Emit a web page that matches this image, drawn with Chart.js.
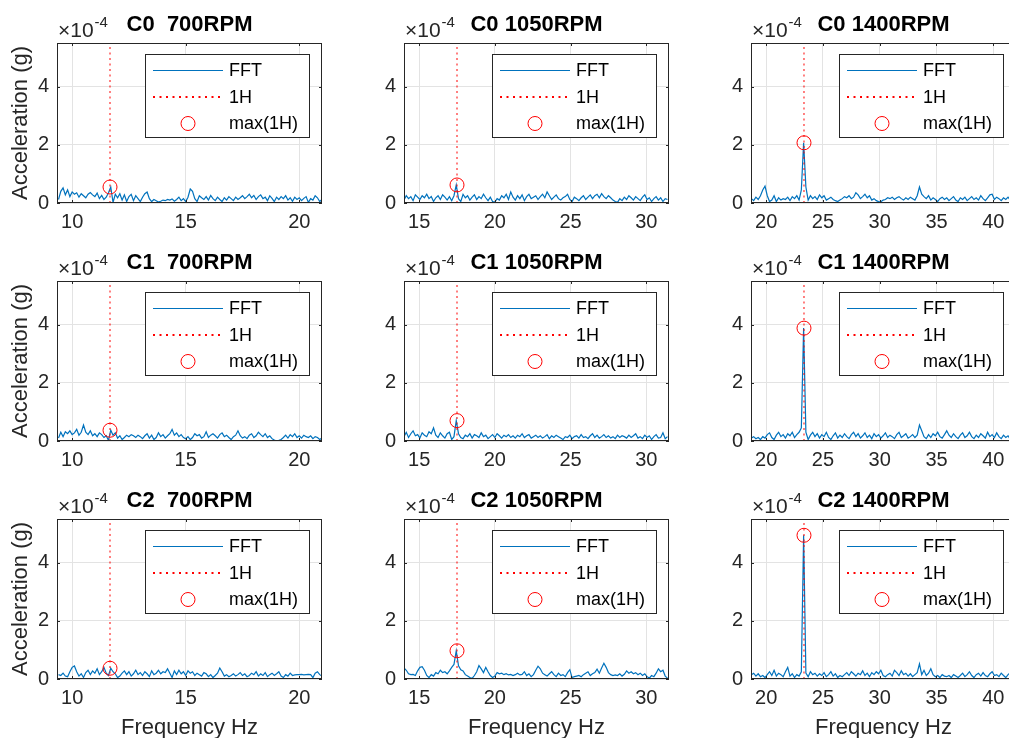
<!DOCTYPE html>
<html>
<head>
<meta charset="utf-8">
<title>FFT 1H</title>
<script src="https://cdn.jsdelivr.net/npm/chart.js@4.4.1/dist/chart.umd.min.js"></script>
<style>
  html, body { margin: 0; padding: 0; background: #fff; }
  #fig { position: relative; width: 1009px; height: 738px; overflow: hidden; background: #fff; }
  #fig canvas { position: absolute; }
</style>
</head>
<body>
<div id="fig"></div>
<script>
// === 1. Data ===
const CONFIGS = ["C0", "C1", "C2"];
const RPMS = [700, 1050, 1400];
const H1_FREQ = [11.667, 17.5, 23.333];
const X_MIN = [9.333, 14, 18.667];
const X_MAX = [21, 31.5, 42];
const X_TICKS = [[10, 15, 20], [15, 20, 25, 30], [20, 25, 30, 35, 40]];
const Y_TICKS = [0, 2, 4];
const Y_MAX = 5.5;

// FFT bins (Hz): first bin and spacing per rpm column
const BIN_START = [9.4, 14.0, 18.7];
const BIN_STEP = [0.1, 0.15, 0.2];

// max(1H), units of 1e-4 g: rows C0..C2, columns 700/1050/1400
const MAX_1H = [
  [0.55, 0.62, 2.07],
  [0.37, 0.70, 3.88],
  [0.37, 0.97, 4.94],
];

// FFT amplitude, units of 1e-4 g
const FFT_C0_700 = [
  0.12,0.40,0.52,0.28,0.45,0.22,0.38,0.30,0.35,0.20,
  0.32,0.25,0.18,0.30,0.36,0.28,0.22,0.34,0.15,0.26,
  0.12,0.20,0.35,0.55,0.02,0.30,0.18,0.32,0.10,0.28,
  0.05,0.22,0.30,0.08,0.25,0.15,0.05,0.20,0.32,0.38,
  0.15,0.05,0.12,0.08,0.03,0.06,0.10,0.08,0.12,0.10,
  0.14,0.06,0.12,0.20,0.08,0.15,0.05,0.20,0.48,0.40,
  0.15,0.05,0.25,0.18,0.12,0.22,0.10,0.26,0.15,0.08,
  0.20,0.12,0.05,0.18,0.10,0.22,0.15,0.08,0.20,0.12,
  0.18,0.25,0.15,0.22,0.30,0.18,0.26,0.12,0.22,0.28,
  0.15,0.20,0.08,0.25,0.16,0.05,0.20,0.12,0.22,0.15,
  0.25,0.10,0.18,0.06,0.20,0.12,0.18,0.08,0.16,0.22,
  0.02,0.15,0.10,0.25,0.18,0.05,0.12
];
const FFT_C1_700 = [
  0.10,0.30,0.15,0.32,0.25,0.35,0.22,0.28,0.40,0.20,
  0.30,0.55,0.30,0.22,0.35,0.18,0.25,0.15,0.28,0.22,
  0.12,0.18,0.02,0.37,0.20,0.28,0.10,0.18,0.05,0.12,
  0.20,0.15,0.22,0.18,0.12,0.20,0.15,0.08,0.18,0.25,
  0.10,0.20,0.05,0.12,0.28,0.15,0.22,0.10,0.18,0.25,
  0.40,0.20,0.28,0.15,0.22,0.12,0.08,0.15,0.05,0.12,
  0.25,0.18,0.22,0.10,0.15,0.32,0.12,0.20,0.25,0.18,
  0.10,0.22,0.28,0.15,0.20,0.12,0.05,0.15,0.20,0.35,
  0.18,0.10,0.15,0.08,0.20,0.25,0.12,0.18,0.30,0.22,
  0.15,0.25,0.12,0.18,0.08,0.03,0.00,0.02,0.05,0.12,
  0.20,0.10,0.22,0.15,0.25,0.12,0.18,0.10,0.20,0.15,
  0.12,0.18,0.08,0.15,0.12,0.05,0.10
];
const FFT_C2_700 = [
  0.15,0.12,0.20,0.10,0.08,0.25,0.40,0.45,0.25,0.10,
  0.18,0.05,0.22,0.30,0.15,0.28,0.20,0.35,0.15,0.25,
  0.40,0.20,0.12,0.37,0.25,0.18,0.05,0.10,0.20,0.28,
  0.15,0.25,0.10,0.18,0.30,0.15,0.22,0.12,0.25,0.18,
  0.08,0.28,0.15,0.20,0.30,0.18,0.25,0.22,0.35,0.20,
  0.05,0.28,0.15,0.30,0.18,0.25,0.12,0.28,0.20,0.25,
  0.12,0.20,0.15,0.10,0.22,0.18,0.08,0.15,0.05,0.12,
  0.20,0.38,0.25,0.10,0.15,0.08,0.12,0.18,0.10,0.15,
  0.22,0.12,0.18,0.08,0.12,0.20,0.15,0.25,0.10,0.18,
  0.12,0.22,0.08,0.15,0.20,0.12,0.18,0.25,0.10,0.05,
  0.15,0.10,0.20,0.12,0.14,0.15,0.15,0.16,0.14,0.15,
  0.16,0.15,0.05,0.20,0.25,0.15,0.10
];
const FFT_C0_1050 = [
  0.10,0.25,0.15,0.22,0.08,0.28,0.20,0.12,0.25,0.18,
  0.30,0.15,0.22,0.05,0.18,0.25,0.12,0.28,0.20,0.10,
  0.22,0.08,0.25,0.62,0.15,0.05,0.30,0.18,0.25,0.10,
  0.20,0.28,0.12,0.22,0.15,0.30,0.18,0.08,0.20,0.05,
  0.03,0.15,0.10,0.25,0.18,0.30,0.12,0.38,0.20,0.10,
  0.25,0.15,0.28,0.08,0.22,0.30,0.15,0.20,0.25,0.12,
  0.22,0.30,0.18,0.38,0.25,0.12,0.20,0.28,0.15,0.10,
  0.18,0.22,0.30,0.12,0.05,0.20,0.15,0.08,0.18,0.25,
  0.12,0.20,0.28,0.15,0.25,0.30,0.18,0.32,0.22,0.15,
  0.25,0.18,0.10,0.05,0.02,0.15,0.08,0.20,0.12,0.25,
  0.18,0.10,0.22,0.15,0.08,0.20,0.28,0.12,0.18,0.05,
  0.15,0.22,0.10,0.18,0.05,0.15,0.12
];
const FFT_C1_1050 = [
  0.15,0.30,0.12,0.25,0.35,0.18,0.22,0.10,0.28,0.20,
  0.15,0.32,0.25,0.45,0.20,0.12,0.28,0.18,0.10,0.25,
  0.30,0.05,0.15,0.70,0.25,0.12,0.08,0.20,0.15,0.25,
  0.10,0.22,0.18,0.12,0.28,0.15,0.20,0.08,0.15,0.22,
  0.12,0.25,0.18,0.10,0.20,0.15,0.22,0.12,0.18,0.10,
  0.20,0.15,0.25,0.12,0.18,0.22,0.10,0.15,0.20,0.12,
  0.18,0.10,0.15,0.22,0.08,0.18,0.12,0.20,0.15,0.10,
  0.05,0.15,0.12,0.20,0.08,0.15,0.18,0.10,0.22,0.12,
  0.15,0.08,0.18,0.25,0.12,0.20,0.10,0.15,0.22,0.12,
  0.18,0.10,0.15,0.08,0.20,0.12,0.18,0.15,0.10,0.20,
  0.12,0.18,0.25,0.10,0.15,0.08,0.20,0.12,0.18,0.05,
  0.15,0.22,0.10,0.12,0.28,0.08,0.15
];
const FFT_C2_1050 = [
  0.38,0.30,0.18,0.15,0.16,0.12,0.28,0.40,0.42,0.30,
  0.12,0.05,0.15,0.10,0.22,0.18,0.30,0.22,0.25,0.18,
  0.28,0.40,0.50,0.97,0.45,0.32,0.28,0.15,0.10,0.05,
  0.02,0.12,0.25,0.46,0.35,0.22,0.40,0.25,0.12,0.05,
  0.10,0.22,0.18,0.20,0.15,0.18,0.14,0.16,0.12,0.15,
  0.20,0.14,0.16,0.25,0.12,0.18,0.08,0.15,0.30,0.44,
  0.35,0.20,0.15,0.10,0.18,0.25,0.15,0.08,0.20,0.12,
  0.15,0.08,0.22,0.32,0.05,0.08,0.10,0.12,0.08,0.15,
  0.20,0.25,0.12,0.18,0.22,0.34,0.20,0.38,0.54,0.40,
  0.22,0.15,0.12,0.14,0.12,0.18,0.10,0.16,0.28,0.20,
  0.25,0.18,0.22,0.15,0.20,0.12,0.18,0.08,0.03,0.12,
  0.08,0.20,0.35,0.25,0.30,0.10,0.03
];
const FFT_C0_1400 = [
  0.15,0.08,0.20,0.12,0.25,0.45,0.58,0.25,0.05,0.10,
  0.25,0.05,0.18,0.10,0.15,0.12,0.20,0.08,0.22,0.15,
  0.25,0.10,0.45,2.07,0.55,0.10,0.25,0.15,0.22,0.12,
  0.28,0.18,0.25,0.10,0.15,0.20,0.12,0.08,0.05,0.10,
  0.15,0.22,0.18,0.25,0.15,0.20,0.35,0.28,0.15,0.22,
  0.30,0.18,0.25,0.10,0.15,0.08,0.05,0.04,0.10,0.12,
  0.18,0.15,0.20,0.12,0.18,0.22,0.15,0.10,0.18,0.12,
  0.20,0.15,0.10,0.25,0.55,0.30,0.22,0.15,0.25,0.10,
  0.18,0.12,0.05,0.15,0.20,0.12,0.18,0.08,0.15,0.22,
  0.10,0.05,0.18,0.12,0.20,0.08,0.15,0.22,0.12,0.18,
  0.10,0.25,0.15,0.08,0.18,0.28,0.30,0.12,0.20,0.15,
  0.08,0.18,0.12,0.20,0.10,0.15,0.12
];
const FFT_C1_1400 = [
  0.10,0.15,0.08,0.12,0.05,0.15,0.10,0.22,0.28,0.12,
  0.05,0.20,0.30,0.15,0.22,0.10,0.25,0.18,0.30,0.12,
  0.22,0.30,0.45,3.88,0.30,0.05,0.20,0.30,0.15,0.25,
  0.10,0.22,0.15,0.30,0.12,0.05,0.18,0.28,0.10,0.20,
  0.12,0.25,0.15,0.08,0.22,0.30,0.15,0.25,0.10,0.18,
  0.28,0.12,0.20,0.08,0.25,0.15,0.22,0.10,0.18,0.28,
  0.12,0.20,0.15,0.08,0.22,0.30,0.12,0.18,0.25,0.10,
  0.15,0.22,0.12,0.20,0.55,0.35,0.15,0.08,0.22,0.12,
  0.25,0.18,0.30,0.15,0.10,0.22,0.35,0.20,0.12,0.25,
  0.15,0.08,0.20,0.28,0.12,0.18,0.30,0.15,0.08,0.20,
  0.12,0.25,0.18,0.10,0.30,0.15,0.22,0.12,0.28,0.15,
  0.08,0.20,0.12,0.18,0.05,0.15,0.10
];
const FFT_C2_1400 = [
  0.15,0.20,0.10,0.18,0.08,0.12,0.05,0.15,0.25,0.12,
  0.30,0.10,0.20,0.15,0.08,0.25,0.40,0.10,0.18,0.05,
  0.15,0.10,0.25,4.94,0.20,0.08,0.25,0.15,0.20,0.10,
  0.18,0.12,0.22,0.08,0.15,0.25,0.10,0.18,0.05,0.12,
  0.08,0.15,0.22,0.12,0.25,0.18,0.10,0.20,0.15,0.28,
  0.12,0.20,0.08,0.22,0.15,0.25,0.18,0.30,0.12,0.08,
  0.15,0.20,0.10,0.30,0.22,0.12,0.28,0.15,0.20,0.10,
  0.18,0.08,0.15,0.22,0.52,0.15,0.30,0.12,0.20,0.35,
  0.15,0.08,0.12,0.05,0.15,0.10,0.08,0.12,0.05,0.15,
  0.10,0.05,0.12,0.20,0.08,0.15,0.25,0.12,0.05,0.15,
  0.20,0.10,0.22,0.12,0.08,0.18,0.25,0.12,0.15,0.08,
  0.20,0.12,0.05,0.15,0.22,0.10,0.15
];

const FFT = [
  [FFT_C0_700, FFT_C0_1050, FFT_C0_1400],
  [FFT_C1_700, FFT_C1_1050, FFT_C1_1400],
  [FFT_C2_700, FFT_C2_1050, FFT_C2_1400],
];

// === 2. Layout (pixels) ===
const COL_X = [57, 404, 751];   // left edge of each axes
const ROW_Y = [43, 281, 519];   // top edge of each axes
const AX_W = 265;
const AX_H = 160;
const PAD_L = 57;
const PAD_T = 43;
const PAD_R = 25;
const FONT = "'Liberation Sans', Arial, Helvetica, sans-serif";
const AXIS_COLOR = "#262626";

// === 3. MATLAB-style box, inward ticks, legend, title, exponent ===
const matlabAxes = {
  id: "matlabAxes",
  afterDraw(chart, args, opts) {
    const { ctx, chartArea: a } = chart;
    const xs = chart.scales.x;
    const ys = chart.scales.y;
    ctx.save();

    // inward tick marks + box
    ctx.strokeStyle = AXIS_COLOR;
    ctx.lineWidth = 1;
    ctx.setLineDash([]);
    ctx.beginPath();
    xs.ticks.forEach((t) => {
      const px = Math.round(xs.getPixelForValue(t.value)) + 0.5;
      ctx.moveTo(px, a.bottom);
      ctx.lineTo(px, a.bottom - 3);
      ctx.moveTo(px, a.top);
      ctx.lineTo(px, a.top + 3);
    });
    ys.ticks.forEach((t) => {
      const py = Math.round(ys.getPixelForValue(t.value)) + 0.5;
      ctx.moveTo(a.left, py);
      ctx.lineTo(a.left + 3, py);
      ctx.moveTo(a.right, py);
      ctx.lineTo(a.right - 3, py);
    });
    ctx.stroke();
    ctx.strokeRect(a.left + 0.5, a.top + 0.5, a.right - a.left - 1, a.bottom - a.top - 1);

    // legend
    const lw = 165, lh = 84;
    const lx = a.right - 12 - lw;
    const ly = a.top + 11;
    ctx.fillStyle = "#fff";
    ctx.fillRect(lx, ly, lw, lh);
    ctx.strokeStyle = AXIS_COLOR;
    ctx.strokeRect(lx + 0.5, ly + 0.5, lw - 1, lh - 1);
    ctx.font = `18px ${FONT}`;
    ctx.textAlign = "left";
    ctx.textBaseline = "middle";
    chart.data.datasets.forEach((ds, i) => {
      const cy = Math.round(ly + 16 + i * 26.5);
      ctx.strokeStyle = ds.borderColor;
      if (ds.showLine === false) {
        ctx.lineWidth = 1;
        ctx.setLineDash([]);
        ctx.beginPath();
        ctx.arc(lx + 43, cy + 0.5, ds.pointRadius, 0, Math.PI * 2);
        ctx.stroke();
      } else if (ds.borderDash) {
        ctx.lineWidth = 2;
        ctx.setLineDash([2, 4.5]);
        ctx.beginPath();
        ctx.moveTo(lx + 8, cy);
        ctx.lineTo(lx + 78, cy);
        ctx.stroke();
      } else {
        ctx.lineWidth = 1.2;
        ctx.setLineDash([]);
        ctx.beginPath();
        ctx.moveTo(lx + 8, cy + 0.5);
        ctx.lineTo(lx + 78, cy + 0.5);
        ctx.stroke();
      }
      ctx.fillStyle = "#000";
      ctx.fillText(ds.label, lx + 84, cy + 1);
    });
    ctx.setLineDash([]);

    // title
    ctx.fillStyle = "#000";
    ctx.font = `bold 22px ${FONT}`;
    ctx.textAlign = "center";
    ctx.textBaseline = "alphabetic";
    ctx.fillText(opts.title, (a.left + a.right) / 2, a.top - 12);

    // exponent label x10^-4
    ctx.fillStyle = AXIS_COLOR;
    ctx.textAlign = "left";
    ctx.font = `21px ${FONT}`;
    const base = "\u00d710";
    ctx.fillText(base, a.left + 1, a.top - 6);
    const bw = ctx.measureText(base).width;
    ctx.font = `15px ${FONT}`;
    ctx.fillText("-4", a.left + 2 + bw, a.top - 16);

    ctx.restore();
  },
};

// === 4. Build the nine panels ===
const fig = document.getElementById("fig");

function makePanel(r, c) {
  const values = FFT[r][c];
  const f1 = H1_FREQ[c];
  const fftPts = values.map((v, i) => ({
    x: +(BIN_START[c] + i * BIN_STEP[c]).toFixed(3),
    y: v,
  }));
  const canvasH = r === 2 ? 280 : 238;
  const canvasW = PAD_L + AX_W + PAD_R;

  const cv = document.createElement("canvas");
  cv.width = canvasW;
  cv.height = canvasH;
  cv.style.left = COL_X[c] - PAD_L + "px";
  cv.style.top = ROW_Y[r] - PAD_T + "px";
  fig.appendChild(cv);

  const rpm = String(RPMS[c]).padStart(4, " ");
  const title = `${CONFIGS[r]} ${rpm}RPM`;

  return new Chart(cv, {
    type: "line",
    data: {
      datasets: [
        {
          label: "FFT",
          data: fftPts,
          borderColor: "#0072BD",
          borderWidth: 1.2,
          pointRadius: 0,
          tension: 0,
          fill: false,
          order: 2,
        },
        {
          label: "1H",
          data: [{ x: f1, y: 0 }, { x: f1, y: Y_MAX }],
          borderColor: "#FF0000",
          borderWidth: 1,
          borderDash: [2, 3.5],
          pointRadius: 0,
          fill: false,
          order: 1,
        },
        {
          label: "max(1H)",
          data: [{ x: f1, y: MAX_1H[r][c] }],
          showLine: false,
          borderColor: "#FF0000",
          backgroundColor: "rgba(0,0,0,0)",
          pointStyle: "circle",
          pointRadius: 7,
          pointBorderWidth: 1,
          pointBorderColor: "#FF0000",
          pointBackgroundColor: "rgba(0,0,0,0)",
          order: 0,
        },
      ],
    },
    options: {
      responsive: false,
      animation: false,
      devicePixelRatio: 1,
      events: [],
      layout: { padding: { left: 0, top: PAD_T, right: PAD_R, bottom: 0 } },
      plugins: {
        legend: { display: false },
        title: { display: false },
        tooltip: { enabled: false },
        matlabAxes: { title },
      },
      scales: {
        x: {
          type: "linear",
          min: X_MIN[c],
          max: X_MAX[c],
          afterBuildTicks: (s) => {
            s.ticks = X_TICKS[c].map((v) => ({ value: v }));
          },
          afterFit: (s) => {
            s.height = canvasH - PAD_T - AX_H;
          },
          grid: { color: "#e3e3e3", lineWidth: 1, drawTicks: false },
          border: { display: false },
          ticks: {
            padding: 7,
            color: AXIS_COLOR,
            font: { family: FONT, size: 20 },
            maxRotation: 0,
            autoSkip: false,
          },
          title: {
            display: r === 2,
            text: "Frequency Hz",
            color: AXIS_COLOR,
            font: { family: FONT, size: 22 },
            padding: { top: 0, bottom: 15 },
          },
        },
        y: {
          type: "linear",
          min: 0,
          max: Y_MAX,
          afterBuildTicks: (s) => {
            s.ticks = Y_TICKS.map((v) => ({ value: v }));
          },
          afterFit: (s) => {
            s.width = PAD_L;
          },
          grid: { color: "#e3e3e3", lineWidth: 1, drawTicks: false },
          border: { display: false },
          ticks: {
            padding: 8,
            color: AXIS_COLOR,
            font: { family: FONT, size: 20 },
          },
          title: {
            display: c === 0,
            text: "Acceleration (g)",
            color: AXIS_COLOR,
            font: { family: FONT, size: 22 },
            padding: { top: 8, bottom: 0 },
          },
        },
      },
    },
    plugins: [matlabAxes],
  });
}

for (let r = 0; r < 3; r++) {
  for (let c = 0; c < 3; c++) {
    makePanel(r, c);
  }
}
</script>
</body>
</html>
